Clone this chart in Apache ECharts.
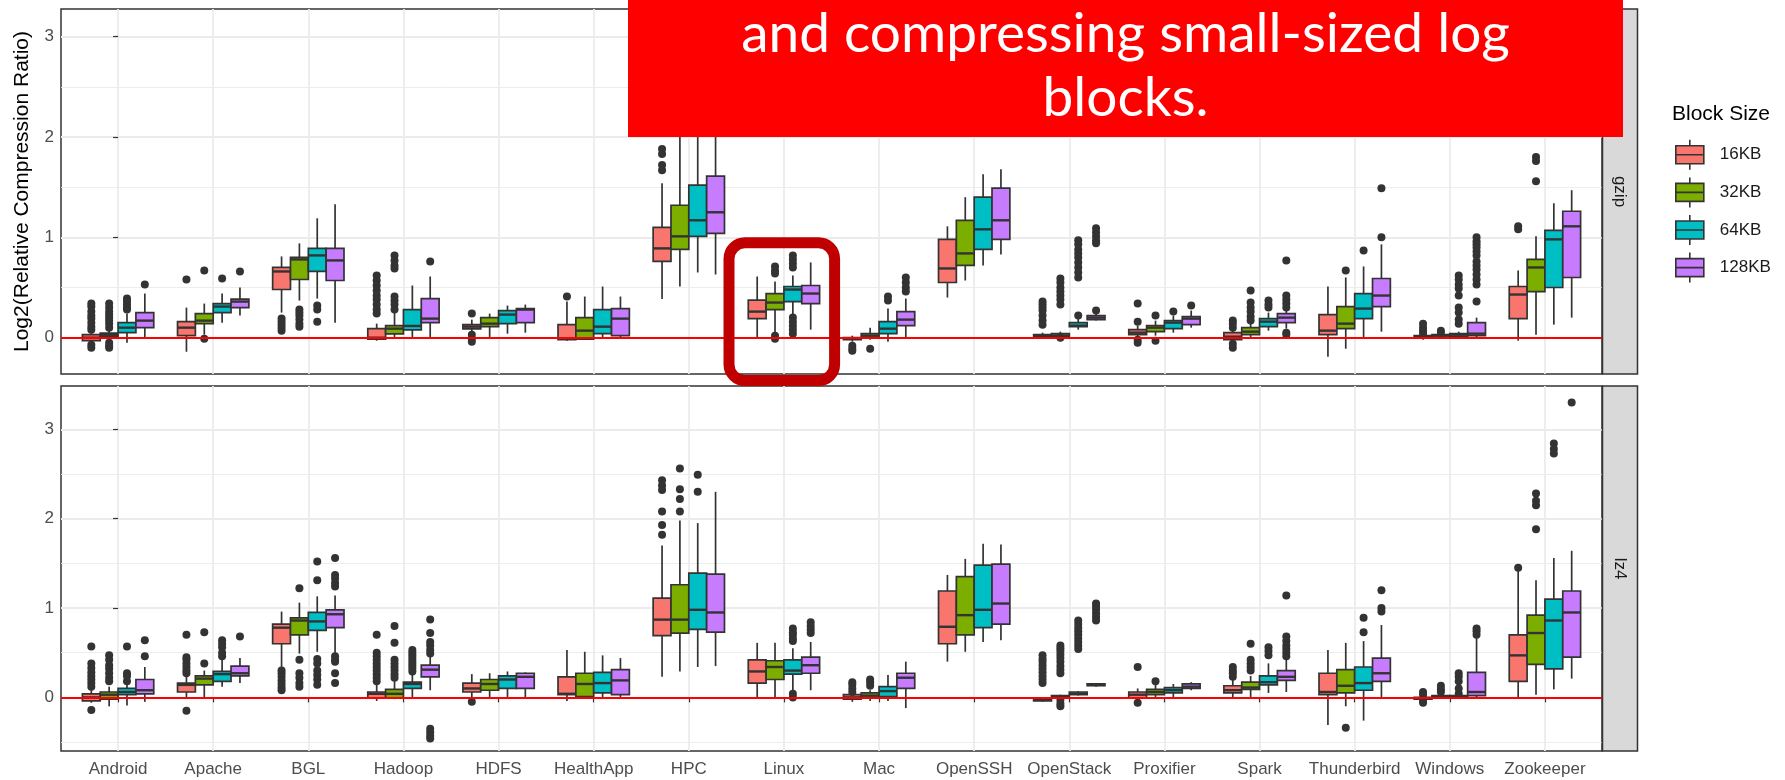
<!DOCTYPE html>
<html>
<head>
<meta charset="utf-8">
<script src="https://cdn.jsdelivr.net/npm/echarts@6.0.0/dist/echarts.min.js"></script>
<style>
  html, body { margin: 0; padding: 0; background: #fff; }
  #main { width: 1785px; height: 780px; }
</style>
</head>
<body>
<div id="main"></div>
<script>
var categories = ['Android','Apache','BGL','Hadoop','HDFS','HealthApp','HPC','Linux','Mac','OpenSSH','OpenStack','Proxifier','Spark','Thunderbird','Windows','Zookeeper'];
var blocks = ['16KB','32KB','64KB','128KB'];
var yTicks = [0, 1, 2, 3];

// [lower whisker, Q1, median, Q3, upper whisker] per category
var gzip16 = [[-0.05,-0.03,0.0,0.03,0.06],[-0.14,0.02,0.1,0.16,0.3],[0.25,0.48,0.66,0.7,0.81],[-0.03,-0.015,0.0,0.09,0.14],[0.04,0.087,0.11,0.13,0.18],[-0.03,-0.02,-0.01,0.13,0.36],[0.385,0.76,0.89,1.1,1.54],[0.0,0.19,0.26,0.375,0.61],[-0.04,-0.02,-0.01,0.0,0.02],[0.4,0.55,0.69,0.98,1.11],[0.0,0.01,0.02,0.03,0.05],[0.0,0.03,0.05,0.08,0.12],[-0.03,-0.02,0.01,0.05,0.08],[-0.19,0.03,0.07,0.23,0.51],[-0.02,0.0,0.01,0.02,0.03],[-0.03,0.19,0.43,0.51,0.67]];
var gzip32 = [[0.0,0.015,0.03,0.045,0.07],[0.03,0.14,0.17,0.24,0.34],[0.37,0.58,0.78,0.8,0.94],[0.0,0.037,0.09,0.12,0.26],[0.0,0.11,0.14,0.2,0.24],[-0.015,-0.015,0.07,0.2,0.41],[0.51,0.88,1.01,1.32,2.2],[0.05,0.28,0.35,0.44,0.56],[-0.02,0.0,0.02,0.04,0.1],[0.57,0.72,0.84,1.17,1.4],[0.0,0.01,0.02,0.04,0.06],[0.02,0.06,0.1,0.12,0.17],[0.0,0.03,0.06,0.1,0.14],[-0.11,0.09,0.14,0.31,0.6],[0.0,0.0,0.02,0.03,0.04],[0.03,0.46,0.7,0.78,1.01]];
var gzip64 = [[-0.05,0.05,0.1,0.15,0.24],[0.15,0.25,0.31,0.34,0.44],[0.39,0.66,0.82,0.89,1.19],[0.0,0.077,0.117,0.28,0.52],[0.04,0.14,0.23,0.27,0.32],[0.0,0.04,0.11,0.28,0.51],[0.65,1.01,1.17,1.52,2.45],[0.22,0.36,0.48,0.51,0.62],[-0.04,0.04,0.09,0.16,0.29],[0.72,0.88,1.08,1.4,1.63],[0.08,0.11,0.12,0.15,0.19],[0.05,0.09,0.15,0.17,0.22],[0.07,0.11,0.16,0.19,0.25],[0.0,0.19,0.29,0.44,0.71],[0.0,0.01,0.03,0.04,0.06],[0.13,0.5,0.98,1.07,1.34]];
var gzip128 = [[0.0,0.1,0.17,0.25,0.44],[0.22,0.3,0.36,0.385,0.5],[0.15,0.57,0.77,0.89,1.33],[0.0,0.15,0.19,0.39,0.61],[0.05,0.15,0.28,0.29,0.33],[0.0,0.02,0.19,0.29,0.41],[0.63,1.04,1.25,1.61,2.6],[0.08,0.34,0.44,0.52,0.75],[0.0,0.12,0.18,0.26,0.39],[0.83,0.98,1.17,1.49,1.68],[0.17,0.18,0.2,0.22,0.25],[0.1,0.13,0.19,0.21,0.27],[0.09,0.15,0.2,0.24,0.29],[0.06,0.31,0.42,0.59,0.93],[0.0,0.02,0.04,0.15,0.2],[0.2,0.6,1.11,1.26,1.47]];

var gzip16Out = [[0.34,0.31,0.26,0.22,0.19,0.15,0.11,0.08,-0.07,-0.1],[0.58],[0.19,0.16,0.13,0.1,0.07],[0.62,0.57,0.52,0.47,0.42,0.38,0.33,0.28,0.24],[0.24,0.03,-0.01,-0.04],[0.41],[1.88,1.83,1.72,1.67],[],[-0.08,-0.11,-0.13],[],[0.36,0.33,0.3,0.27,0.22,0.17,0.13],[0.34,0.16,-0.02,-0.05],[0.17,0.14,0.1,-0.06,-0.1],[],[0.14,0.1,0.07,0.04],[1.11,1.08]];
var gzip32Out = [[0.34,0.3,0.26,0.23,0.2,0.17,0.14,0.1,-0.05,-0.08,-0.1],[0.67,-0.01],[0.28,0.25,0.22,0.18,0.14,0.11],[0.82,0.77,0.72,0.69,0.41,0.37,0.33,0.28],[],[],[2.35,2.6],[0.71,0.67,0.64,0.02,-0.01],[-0.11],[],[0.59,0.55,0.5,0.46,0.42,0.38,0.33,0.0],[0.22,-0.03],[0.47,0.35,0.3,0.26,0.21,0.17],[0.67],[0.07,0.05],[1.8,1.76,1.56]];
var gzip64Out = [[0.39,0.36,0.33,0.3,0.28],[0.59],[0.32,0.28,0.16],[],[],[],[2.85,3.1],[0.82,0.78,0.74,0.7,0.2,0.16,0.12,0.08,0.04],[0.41,0.37],[],[0.97,0.93,0.88,0.84,0.8,0.75,0.7,0.65,0.6,0.22],[0.26],[0.37,0.33,0.3],[0.87],[0.62,0.58,0.53,0.49,0.42,0.3,0.25,0.18,0.14],[]];
var gzip128Out = [[0.53],[0.66],[],[0.76],[],[],[2.95],[],[0.6,0.55,0.5,0.46],[],[1.09,1.05,1.01,0.97,0.94,0.27],[0.32],[0.77,0.42,0.38,0.34,0.3,0.05,0.03],[1.0,1.49],[1.0,0.96,0.93,0.9,0.86,0.82,0.76,0.72,0.68,0.63,0.58,0.53,0.36],[]];

var lz4_16 = [[-0.06,-0.04,0.0,0.04,0.1],[0.0,0.06,0.14,0.16,0.23],[0.33,0.6,0.78,0.82,0.96],[-0.04,-0.01,0.04,0.06,0.14],[0.0,0.06,0.1,0.16,0.26],[-0.04,0.03,0.04,0.23,0.53],[0.23,0.69,0.87,1.11,1.7],[0.0,0.16,0.29,0.42,0.61],[-0.05,-0.02,0.0,0.03,0.05],[0.4,0.6,0.79,1.19,1.37],[-0.05,-0.04,-0.02,-0.01,0.0],[-0.02,-0.01,0.03,0.06,0.1],[0.0,0.05,0.08,0.13,0.2],[-0.31,0.03,0.06,0.27,0.53],[-0.03,-0.02,-0.01,0.0,0.01],[0.0,0.18,0.47,0.7,1.44]];
var lz4_32 = [[-0.1,-0.02,0.03,0.06,0.12],[0.0,0.14,0.21,0.24,0.3],[0.49,0.7,0.86,0.89,1.06],[-0.02,-0.01,0.04,0.09,0.18],[0.0,0.08,0.15,0.2,0.27],[0.0,0.01,0.15,0.27,0.51],[0.29,0.72,0.87,1.26,1.98],[0.0,0.2,0.34,0.41,0.61],[-0.04,0.0,0.02,0.05,0.08],[0.51,0.7,0.92,1.35,1.55],[-0.01,0.0,0.01,0.02,0.03],[0.0,0.03,0.06,0.09,0.14],[0.0,0.09,0.11,0.17,0.24],[-0.1,0.05,0.13,0.31,0.61],[-0.01,0.0,0.01,0.02,0.03],[0.03,0.37,0.72,0.92,1.31]];
var lz4_64 = [[-0.09,0.03,0.06,0.1,0.17],[0.12,0.18,0.26,0.29,0.42],[0.51,0.75,0.85,0.95,1.13],[0.0,0.1,0.15,0.17,0.27],[0.0,0.1,0.2,0.24,0.29],[0.0,0.05,0.16,0.28,0.47],[0.34,0.76,0.98,1.39,1.95],[0.05,0.26,0.3,0.42,0.55],[-0.04,0.01,0.07,0.12,0.25],[0.62,0.78,0.98,1.48,1.72],[0.02,0.03,0.04,0.06,0.07],[0.0,0.05,0.08,0.11,0.15],[0.05,0.14,0.17,0.24,0.38],[-0.26,0.08,0.16,0.34,0.63],[-0.01,0.0,0.01,0.02,0.03],[0.09,0.32,0.86,1.1,1.56]];
var lz4_128 = [[-0.05,0.04,0.08,0.2,0.34],[0.16,0.24,0.27,0.35,0.44],[0.49,0.78,0.93,0.98,1.14],[0.08,0.23,0.31,0.36,0.46],[0.0,0.1,0.23,0.27,0.28],[0.0,0.03,0.19,0.31,0.44],[0.35,0.73,0.95,1.38,2.3],[0.08,0.27,0.36,0.45,0.62],[-0.12,0.1,0.22,0.27,0.4],[0.64,0.82,1.05,1.49,1.71],[0.12,0.13,0.14,0.15,0.16],[0.08,0.1,0.12,0.15,0.17],[0.06,0.19,0.23,0.3,0.42],[0.0,0.18,0.27,0.44,0.81],[0.0,0.02,0.06,0.28,0.68],[0.21,0.45,0.95,1.19,1.64]];

var lz4_16Out = [[0.57,0.38,0.33,0.28,0.24,0.2,0.16,0.12,-0.14],[0.7,0.45,0.42,0.38,0.34,0.3,0.27,-0.15],[0.3,0.27,0.23,0.19,0.15,0.11,0.08],[0.7,0.5,0.46,0.42,0.38,0.34,0.3,0.26,0.22,0.18],[-0.05],[],[2.43,2.37,2.32,2.08,1.93,1.82],[],[0.17,0.14,0.1,0.06],[],[0.47,0.43,0.4,0.36,0.32,0.28,0.24,0.2,0.16],[0.34,-0.06],[0.34,0.3,0.27,0.23],[],[0.06,0.03,-0.04,-0.06],[1.45]];
var lz4_32Out = [[0.47,0.42,0.36,0.32,0.27,0.22,0.18],[0.73,0.38],[1.22,0.42,0.27,0.22,0.16,0.12],[0.8,0.61,0.42,0.38,0.34,0.3,0.26,0.22],[],[],[2.56,2.33,2.22,2.08],[],[0.2,0.17,0.13],[],[0.58,0.55,0.52,0.48,0.44,0.4,0.35,0.31,0.27,-0.03,-0.07,-0.1],[0.18],[0.6,0.42,0.38,0.34,0.3],[-0.34],[0.13,0.09,0.06],[2.28,2.2,2.15,1.88]];
var lz4_64Out = [[0.57,0.27,0.24,0.18],[0.64,0.6,0.56,0.5,0.46],[1.52,1.31,0.43,0.38,0.3,0.25,0.2,0.14],[0.53,0.5,0.47,0.44,0.41,0.38,0.35,0.32,0.29],[],[],[2.49,2.3],[0.77,0.73,0.7,0.66,0.63,0.04,0.0],[],[],[0.86,0.82,0.78,0.74,0.7,0.66,0.62,0.58,0.54],[],[0.56,0.52,0.47],[0.89,0.73],[0.27,0.23,0.18,0.1,0.04],[2.84,2.78,2.73]];
var lz4_128Out = [[0.64,0.46],[0.68],[1.56,1.37,1.33,1.28,1.24,0.46,0.42,0.4,0.27,0.16],[0.87,0.72,0.62,0.58,0.53,0.49,-0.35,-0.39,-0.43,-0.46],[],[],[],[0.84,0.8,0.76,0.72],[],[],[1.05,1.02,0.98,0.94,0.9,0.86],[],[1.14,0.68,0.63,0.58,0.54,0.5,0.46],[1.2,1.0,0.96],[0.77,0.74,0.7],[3.3]];

var colors = ['#F8766D', '#7CAE00', '#00BFC4', '#C77CFF'];
var offsets = [-0.28125, -0.09375, 0.09375, 0.28125];
var boxW = 0.1875;
var catIdx = categories.map(function (c, i) { return i; });

var panels = [
  { name: 'gzip', stats: [gzip16, gzip32, gzip64, gzip128], outs: [gzip16Out, gzip32Out, gzip64Out, gzip128Out],
    top: 9, min: -0.362, max: 3.276, minor: [0.5, 1.5, 2.5] },
  { name: 'lz4', stats: [lz4_16, lz4_32, lz4_64, lz4_128], outs: [lz4_16Out, lz4_32Out, lz4_64Out, lz4_128Out],
    top: 386, min: -0.60, max: 3.484, minor: [-0.5, 0.5, 1.5, 2.5] }
];
var panelH = 365;

function makeRender(k) {
  return function (params, api) {
    var x = api.value(0) + offsets[k];
    var lo = api.coord([x, api.value(1)]);
    var q1 = api.coord([x, api.value(2)]);
    var med = api.coord([x, api.value(3)]);
    var q3 = api.coord([x, api.value(4)]);
    var hi = api.coord([x, api.value(5)]);
    var half = api.size([boxW, 0])[0] / 2;
    return {
      type: 'group',
      children: [
        { type: 'line', shape: { x1: lo[0], y1: lo[1], x2: q1[0], y2: q1[1] }, style: { stroke: '#333333', lineWidth: 1.7 } },
        { type: 'line', shape: { x1: q3[0], y1: q3[1], x2: hi[0], y2: hi[1] }, style: { stroke: '#333333', lineWidth: 1.7 } },
        { type: 'rect', shape: { x: q3[0] - half, y: q3[1], width: half * 2, height: q1[1] - q3[1] },
          style: { fill: colors[k], stroke: '#333333', lineWidth: 1.7 } },
        { type: 'line', shape: { x1: med[0] - half, y1: med[1], x2: med[0] + half, y2: med[1] }, style: { stroke: '#333333', lineWidth: 2.4 } }
      ]
    };
  };
}

var grids = [], xAxes = [], yAxes = [], series = [];
panels.forEach(function (p, pi) {
  var bottom = pi === panels.length - 1;
  grids.push({ left: 61, top: p.top, width: 1541, height: panelH, show: true, borderColor: '#333333', borderWidth: 1.5,
               backgroundColor: '#ffffff', containLabel: false, outerBoundsMode: 'none' });
  xAxes.push({
    gridIndex: pi, type: 'value', min: -0.6, max: 15.6,
    axisLine: { show: false },
    axisTick: { show: bottom, customValues: catIdx, length: 5, lineStyle: { color: '#333333', width: 1.2 } },
    axisLabel: { show: bottom, customValues: catIdx, margin: 10, fontSize: 17, color: '#4D4D4D',
                 formatter: function (v) { return categories[Math.round(v)]; } },
    splitLine: { show: true, lineStyle: { color: '#EBEBEB', width: 1.8 } }
  });
  var yi = yAxes.length;
  yAxes.push({
    gridIndex: pi, type: 'value', min: p.min, max: p.max, position: 'left',
    name: pi === 0 ? 'Log2(Relative Compression Ratio)' : '', nameLocation: 'middle', nameGap: 28,
    nameTextStyle: { fontSize: 21, color: '#000000' },
    axisLine: { show: false },
    axisTick: { show: true, customValues: yTicks, length: 5, lineStyle: { color: '#333333', width: 1.2 } },
    axisLabel: { customValues: yTicks, fontSize: 17, color: '#4D4D4D', margin: 7 },
    splitLine: { show: true, lineStyle: { color: '#EBEBEB', width: 1.8 } }
  });
  yAxes.push({
    gridIndex: pi, type: 'value', min: p.min, max: p.max, position: 'left',
    axisLine: { show: false }, axisLabel: { show: false },
    axisTick: { show: false, customValues: p.minor },
    splitLine: { show: true, lineStyle: { color: '#EBEBEB', width: 0.9 } }
  });
  blocks.forEach(function (b, k) {
    series.push({
      name: b, type: 'custom', xAxisIndex: pi, yAxisIndex: yi,
      itemStyle: { color: colors[k] },
      encode: { x: 0, y: [1, 2, 3, 4, 5] },
      renderItem: makeRender(k),
      data: p.stats[k].map(function (s, i) { return [i].concat(s); }),
      z: 3
    });
  });
  blocks.forEach(function (b, k) {
    var pts = [];
    p.outs[k].forEach(function (list, i) {
      list.forEach(function (v) { pts.push([i + offsets[k], v]); });
    });
    series.push({
      name: 'outliers ' + b, type: 'scatter', xAxisIndex: pi, yAxisIndex: yi,
      symbol: 'circle', symbolSize: 8, itemStyle: { color: '#333333', opacity: 1 },
      data: pts, z: 4
    });
  });
  series.push({
    name: 'zero', type: 'line', xAxisIndex: pi, yAxisIndex: yi, data: [], z: 5,
    markLine: { silent: true, symbol: 'none', label: { show: false }, animation: false,
                lineStyle: { color: '#FF0000', width: 2, type: 'solid' }, data: [{ yAxis: 0 }] }
  });
});

var graphics = [];
panels.forEach(function (p) {
  graphics.push({ type: 'rect', shape: { x: 1602.5, y: p.top, width: 35, height: panelH },
                  style: { fill: '#D9D9D9', stroke: '#333333', lineWidth: 1.5 }, z: 1 });
  graphics.push({ type: 'text', x: 1620, y: p.top + panelH / 2, rotation: -Math.PI / 2,
                  style: { text: p.name, fill: '#1A1A1A', font: '17px "Liberation Sans"', align: 'center', verticalAlign: 'middle',
                           textAlign: 'center', textVerticalAlign: 'middle' }, z: 2 });
});
graphics.push({ type: 'rect', shape: { x: 628, y: 0, width: 995, height: 137 }, style: { fill: '#FF0000' }, z: 100 });
graphics.push({ type: 'text', x: 1125.5, y: 34,
                style: { text: 'and compressing small-sized log', fill: '#ffffff', font: '55px Lato', align: 'center', verticalAlign: 'middle',
                         textAlign: 'center', textVerticalAlign: 'middle' }, z: 101 });
graphics.push({ type: 'text', x: 1125.5, y: 98,
                style: { text: 'blocks.', fill: '#ffffff', font: '55px Lato', align: 'center', verticalAlign: 'middle',
                         textAlign: 'center', textVerticalAlign: 'middle' }, z: 101 });
graphics.push({ type: 'rect', shape: { x: 729, y: 242.8, width: 105.6, height: 137.7, r: 16 },
                style: { fill: 'none', stroke: '#C00000', lineWidth: 11 }, z: 100 });

var myChart = echarts.init(document.getElementById('main'), null, { renderer: 'canvas' });
var option = {
  animation: false,
  backgroundColor: '#ffffff',
  textStyle: { fontFamily: 'Liberation Sans' },
  title: { text: 'Block Size', left: 1672, top: 104, padding: 0,
           textStyle: { fontSize: 21, fontWeight: 'normal', color: '#000000', fontFamily: 'Liberation Sans' } },
  legend: {
    data: blocks, orient: 'vertical', left: 1675, top: 139, padding: 0,
    itemWidth: 28, itemHeight: 30, itemGap: 6,
    icon: 'path://M14,0 L14,6 M0,6 L28,6 L28,24 L0,24 Z M0,15 L28,15 M14,24 L14,30',
    itemStyle: { borderColor: '#333333', borderWidth: 1.6 },
    textStyle: { fontSize: 17, color: '#1A1A1A', padding: [0, 0, 0, 11] }
  },
  grid: grids,
  xAxis: xAxes,
  yAxis: yAxes,
  series: series,
  graphic: { elements: graphics }
};
myChart.setOption(option);
</script>
</body>
</html>
